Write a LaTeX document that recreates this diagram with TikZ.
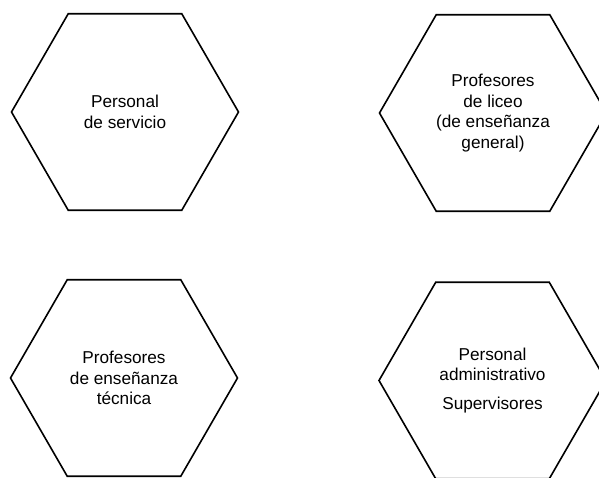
\documentclass[tikz,border=0pt]{standalone}
\usepackage{fontspec}
\setmainfont{Liberation Sans}
\usetikzlibrary{shapes.geometric}
\begin{document}
\begin{tikzpicture}[x=1bp,y=-1bp,
  hexa/.style={draw, line width=1.6bp, regular polygon, regular polygon sides=6,
    minimum size=227bp, inner sep=0pt, align=center,
    font=\fontsize{17.2bp}{20.5bp}\selectfont}]
\useasboundingbox (0,0) rectangle (599,478);
\node[hexa] (servicio) at (125,112) {Personal\\de servicio};
\node[hexa] (liceo) at (493,113) {Profesores\\de liceo\\(de enseñanza\\general)};
\node[hexa] (tecnica) at (124,378) {Profesores\\de enseñanza\\técnica};
\node[hexa] (admin) at (492.5,380.5) {Personal\\administrativo\\[8bp]Supervisores};
\end{tikzpicture}
\end{document}
